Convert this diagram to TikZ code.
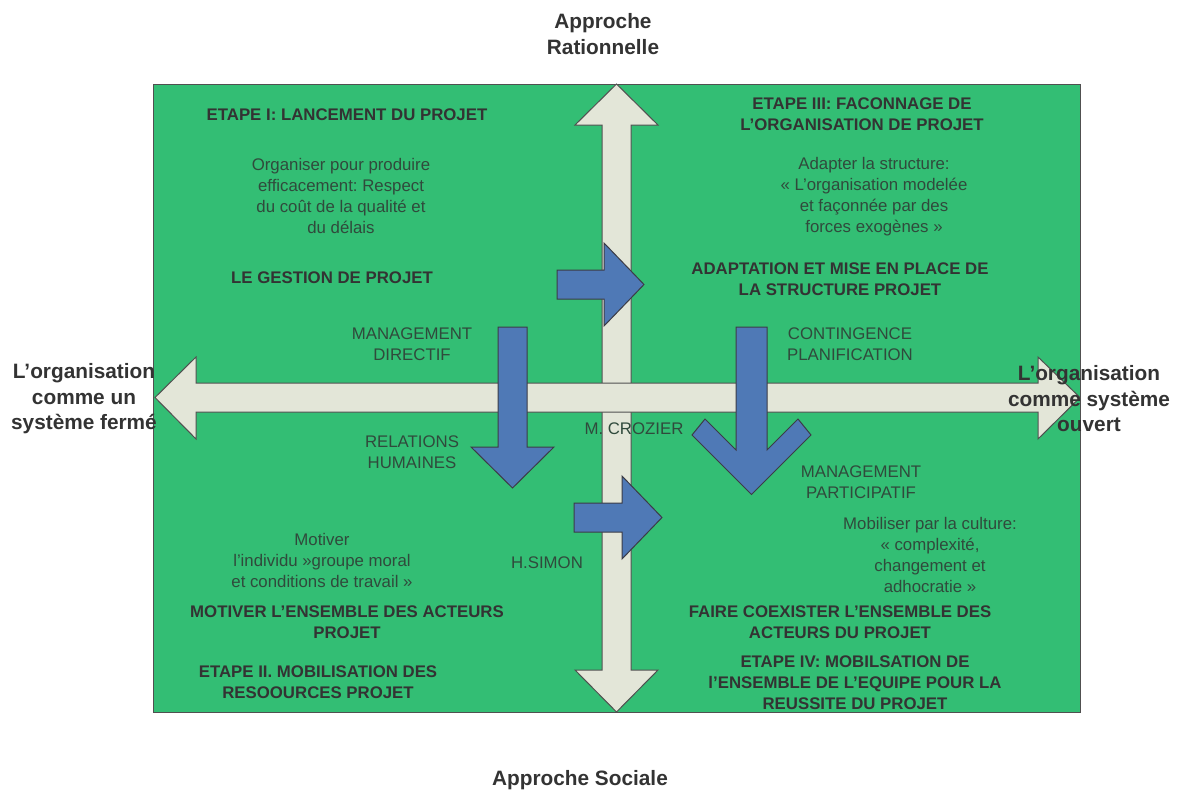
\documentclass[tikz,border=0pt]{standalone}
\usepackage{fontspec}
\setmainfont{Liberation Sans}
\definecolor{gfill}{RGB}{51,190,116}
\definecolor{edge}{RGB}{80,80,80}
\definecolor{lightarr}{RGB}{227,230,216}
\definecolor{blu}{RGB}{79,121,182}
\definecolor{edgeb}{RGB}{60,60,70}
\definecolor{txtb}{RGB}{51,51,51}
\definecolor{txtr}{RGB}{48,74,60}
\tikzset{
  panel/.style={fill=gfill, draw=edge, line width=1.2pt},
  axisarrow/.style={fill=lightarr, draw=edge, line width=1pt, line join=miter},
  bluearrow/.style={fill=blu, draw=edgeb, line width=1pt, line join=miter},
  boldlbl/.style={font=\fontsize{16.8}{21}\selectfont\bfseries\frenchspacing, text=txtb, align=center, inner sep=0pt},
  reglbl/.style={font=\fontsize{16.8}{21}\selectfont\frenchspacing, text=txtr, align=center, inner sep=0pt},
  biglbl/.style={font=\fontsize{20.8}{25.5}\selectfont\bfseries\frenchspacing, text=txtb, align=center, inner sep=0pt},
}
\begin{document}
\frenchspacing
\begin{tikzpicture}[x=1pt,y=-1pt]
\useasboundingbox (0,0) rectangle (1178,792);
\fill[white] (0,0) rectangle (1178,792);
% green panel
\node[panel, anchor=north west, minimum width=927pt, minimum height=628pt, inner sep=0pt] (panel) at (153,84) {};
% vertical double arrow
\draw[axisarrow] (616.5,84) -- (658,125) -- (631,125) -- (631,670) -- (658,670) -- (616.5,712)
  -- (575,670) -- (602,670) -- (602,125) -- (575,125) -- cycle;
% horizontal double arrow
\draw[axisarrow] (155,397.5) -- (196,357) -- (196,383) -- (1038,383) -- (1038,357) -- (1080,397.5)
  -- (1038,439) -- (1038,412) -- (196,412) -- (196,439) -- cycle;
% blue arrows
\draw[bluearrow] (557,270) -- (604,270) -- (604,243) -- (644,284.5) -- (604,326) -- (604,299) -- (557,299) -- cycle;
\draw[bluearrow] (574,503) -- (622,503) -- (622,476) -- (662,517.5) -- (622,559) -- (622,532) -- (574,532) -- cycle;
\draw[bluearrow] (498,327) -- (527,327) -- (527,447) -- (554,447) -- (512.5,488) -- (471,447) -- (498,447) -- cycle;
\draw[bluearrow] (736,327) -- (767,327) -- (767,450) -- (798,419) -- (811,435) -- (751.5,494.5)
  -- (692,435) -- (705,419) -- (736,450) -- cycle;
% top-left quadrant
\node[boldlbl] (e1) at (347,115) {ETAPE I: LANCEMENT DU PROJET};
\node[reglbl] (t1) at (341,196) {Organiser pour produire\\efficacement: Respect\\du coût de la qualité et\\du délais};
\node[boldlbl] (g1) at (332,278) {LE GESTION DE PROJET};
\node[reglbl] (md) at (412,344) {MANAGEMENT\\DIRECTIF};
\node[reglbl] (rh) at (412,452) {RELATIONS\\HUMAINES};
% top-right quadrant
\node[boldlbl] (e3) at (862,114.5) {ETAPE III: FACONNAGE DE\\L’ORGANISATION DE PROJET};
\node[reglbl] (t3) at (874,197) {Adapter la structure:\\« L’organisation modelée\\et façonnée par des\\forces exogènes »};
\node[boldlbl] (g3) at (840,279.5) {ADAPTATION ET MISE EN PLACE DE\\LA STRUCTURE PROJET};
\node[reglbl] (cp) at (850,344) {CONTINGENCE\\PLANIFICATION};
\node[reglbl] (mc) at (634,429) {M. CROZIER};
\node[reglbl] (mp) at (861,482) {MANAGEMENT\\PARTICIPATIF};
% bottom-right quadrant
\node[reglbl] (t4) at (930,554.5) {Mobiliser par la culture:\\« complexité,\\changement et\\adhocratie »};
\node[boldlbl] (g4) at (840,622.5) {FAIRE COEXISTER L’ENSEMBLE DES\\ACTEURS DU PROJET};
\node[boldlbl] (e4) at (855,682.5) {ETAPE IV: MOBILSATION DE\\l’ENSEMBLE DE L’EQUIPE POUR LA\\REUSSITE DU PROJET};
% bottom-left quadrant
\node[reglbl] (t2) at (322,560.5) {Motiver\\l’individu »groupe moral\\et conditions de travail »};
\node[reglbl] (hs) at (547,563) {H.SIMON};
\node[boldlbl] (g2) at (347,622.5) {MOTIVER L’ENSEMBLE DES ACTEURS\\PROJET};
\node[boldlbl] (e2) at (318,682) {ETAPE II. MOBILISATION DES\\RESOOURCES PROJET};
% outer labels
\node[biglbl] (top) at (603,34) {Approche\\Rationnelle};
\node[biglbl] (bot) at (580,780) {Approche Sociale};
\node[biglbl] (lft) at (84,399) {L’organisation\\comme un\\système fermé};
\node[biglbl] (rgt) at (1089,399) {L’organisation\\comme système\\ouvert};
\end{tikzpicture}
\end{document}
